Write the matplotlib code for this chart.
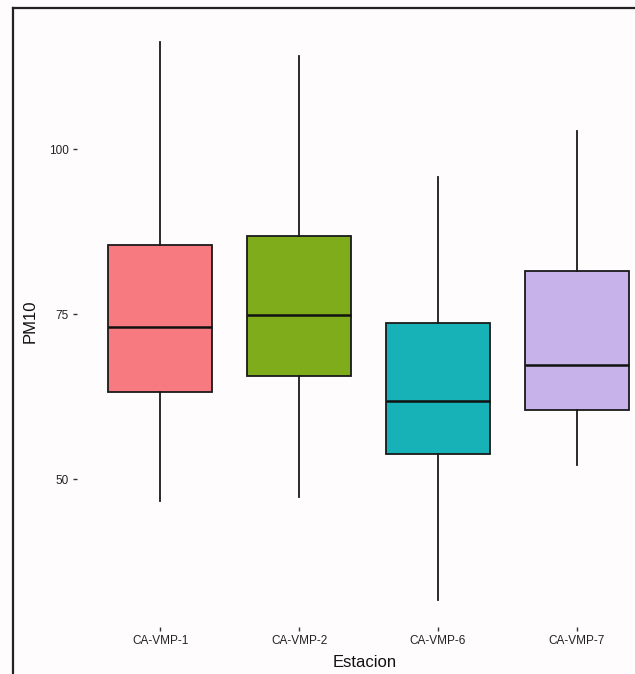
import matplotlib
matplotlib.use("Agg")
import matplotlib.pyplot as plt
from matplotlib.lines import Line2D

plt.rcParams["font.family"] = ["Liberation Sans", "DejaVu Sans"]

# PM10 summary per monitoring station
estaciones = ["CA-VMP-1", "CA-VMP-2", "CA-VMP-6", "CA-VMP-7"]
whisker_low = [46.7, 47.3, 31.7, 52.1]
q1 = [63.2, 65.6, 53.8, 60.5]
mediana = [73.0, 74.85, 61.8, 67.3]
q3 = [85.45, 86.8, 73.6, 81.5]
whisker_high = [116.2, 114.1, 95.8, 102.7]
colores = ["#f77a80", "#7fac1a", "#17b2b7", "#c7b3ea"]
y_ticks = [50, 75, 100]

fig = plt.figure(figsize=(6.35, 6.74), dpi=100)
fig.patch.set_facecolor("#fefcfd")

W, H = 635, 674
left_px, right_px, top_px, bottom_px = 77, 660, 15, 627
ax = fig.add_axes([left_px / W, 1 - bottom_px / H,
                   (right_px - left_px) / W, (bottom_px - top_px) / H])
ax.set_facecolor("none")

stats = []
for i, name in enumerate(estaciones):
    stats.append(dict(label=name, whislo=whisker_low[i], q1=q1[i], med=mediana[i],
                      q3=q3[i], whishi=whisker_high[i], fliers=[]))

bp = ax.bxp(stats, positions=range(1, len(estaciones) + 1), widths=0.75,
            patch_artist=True, showcaps=False,
            boxprops=dict(edgecolor="#1a1a1a", linewidth=1.3),
            medianprops=dict(color="#111111", linewidth=1.8),
            whiskerprops=dict(color="#1a1a1a", linewidth=1.3))
for patch, c in zip(bp["boxes"], colores):
    patch.set_facecolor(c)

ax.set_xlim(0.4, 4.6)
ax.set_ylim(27.6, 120.3)
ax.set_yticks(y_ticks)
ax.set_yticklabels([str(v) for v in y_ticks])
for s in ax.spines.values():
    s.set_visible(False)
ax.tick_params(axis="both", colors="#333333", labelcolor="#222222",
               labelsize=8.5, length=3, width=1)
ax.tick_params(axis="y", pad=3)
ax.tick_params(axis="x", pad=3)

ax.set_ylabel("PM10", fontsize=12, color="#111111", labelpad=8)
ax.set_xlabel("Estacion", fontsize=12, color="#111111", labelpad=2)
ax.xaxis.set_label_coords((365 - left_px) / (right_px - left_px), -0.045)

# Page border lines
fig.add_artist(Line2D([13 / W, 13 / W], [0, 1 - 8 / H], color="#222222",
                      linewidth=1.6, transform=fig.transFigure))
fig.add_artist(Line2D([13 / W, 1], [1 - 8 / H, 1 - 8 / H], color="#222222",
                      linewidth=1.6, transform=fig.transFigure))

fig.savefig("out.png", dpi=100, facecolor=fig.get_facecolor())
